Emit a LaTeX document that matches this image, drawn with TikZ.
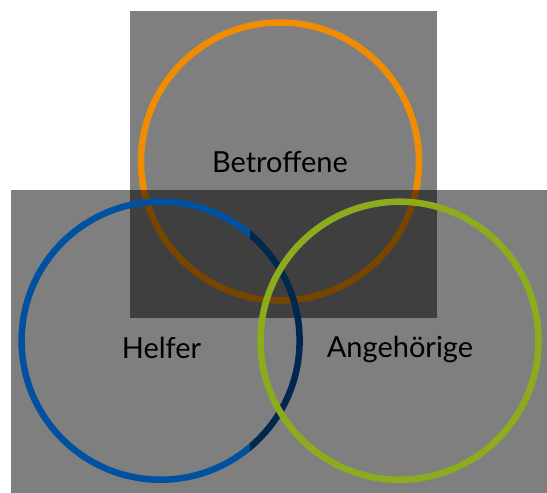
\documentclass[tikz,border=0pt]{standalone}
\usepackage{fontspec}
\setmainfont{Lato}
\usetikzlibrary{positioning}
\definecolor{ringorange}{RGB}{240,140,0}
\definecolor{ringblue}{RGB}{0,82,160}
\definecolor{ringgreen}{RGB}{140,172,30}

\begin{document}
\begin{tikzpicture}[x=1pt, y=-1pt,
    panel/.style={rectangle, fill=black, fill opacity=0.5, anchor=north west, inner sep=0pt, outer sep=0pt},
    ring/.style={circle, line width=6.5pt, minimum size=278pt, inner sep=0pt},
    caption/.style={anchor=base, inner sep=0pt, text=black, font=\fontsize{29}{33}\selectfont}]
    \useasboundingbox (0,0) rectangle (547,493);

    \node (TopPanel) [panel, minimum width=307pt, minimum height=307pt] at (130,11) {};
    \node (BetroffeneRing) [ring, draw=ringorange] at (280,161.5) {};

    \node (LeftPanel) [panel, minimum width=238.5pt, minimum height=303pt] at (11,190) {};
    \node (HelferRing) [ring, draw=ringblue] at (160.6,340.7) {};

    \node (RightPanel) [panel, minimum width=297.5pt, minimum height=303pt] at (249.5,190) {};
    \node (AngehoerigeRing) [ring, draw=ringgreen] at (399.5,340.7) {};

    \node (Betroffene) [caption] at (280,172) {Betroffene};
    \node (Helfer) [caption] at (161.5,358.5) {Helfer};
    \node (Angehoerige) [caption] at (400,357.5) {Angehörige};
\end{tikzpicture}
\end{document}
